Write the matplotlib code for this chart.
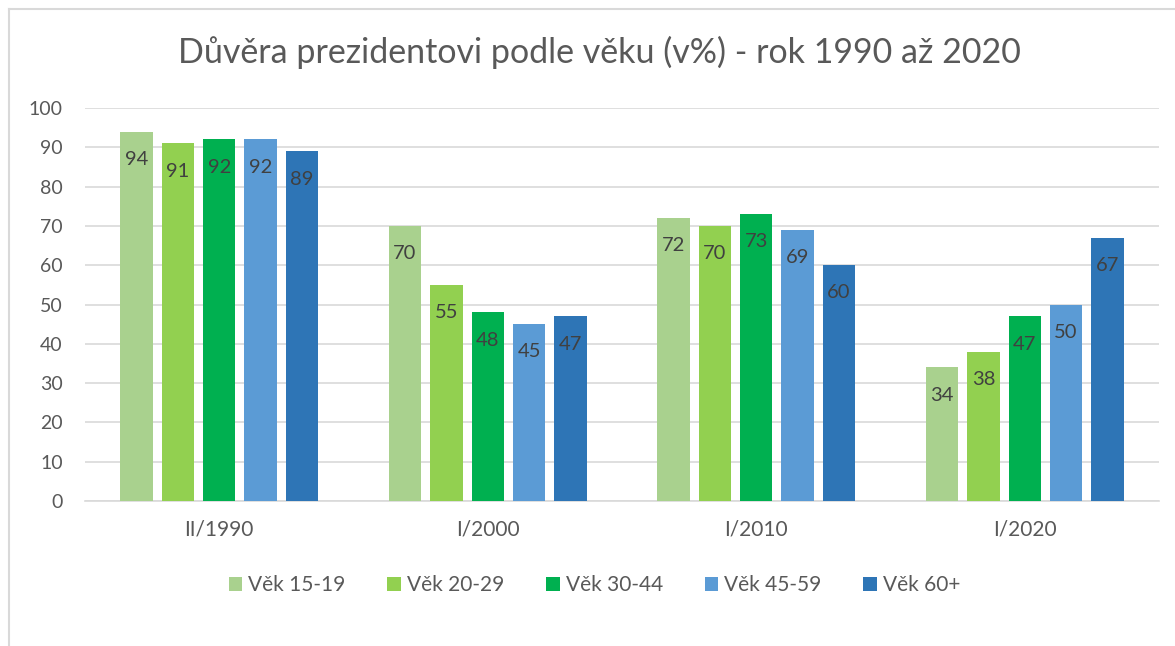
import numpy as np
import matplotlib
matplotlib.use("Agg")
from matplotlib import pyplot as plt
from matplotlib.lines import Line2D

plt.rcParams['font.family'] = ['Lato', 'DejaVu Sans']

categories = ["II/1990", "I/2000", "I/2010", "I/2020"]
series_names = ["Věk 15-19", "Věk 20-29", "Věk 30-44", "Věk 45-59", "Věk 60+"]
age_15_19 = [94, 70, 72, 34]
age_20_29 = [91, 55, 70, 38]
age_30_44 = [92, 48, 73, 47]
age_45_59 = [92, 45, 69, 50]
age_60_plus = [89, 47, 60, 67]
series = [age_15_19, age_20_29, age_30_44, age_45_59, age_60_plus]
colors = ["#A9D18E", "#92D050", "#00B050", "#5B9BD5", "#2E75B6"]

fig = plt.figure(figsize=(11.75, 6.46), dpi=100)
ax = fig.add_axes([85/1175, 1-501/646, 1074/1175, 393/646])

x = np.arange(len(categories))
width = 0.12
pitch = 0.154
for i, (vals, c, name) in enumerate(zip(series, colors, series_names)):
    pos = x + (i - 2) * pitch
    bars = ax.bar(pos, vals, width, color=c, label=name, zorder=3)
    for b, v in zip(bars, vals):
        ax.annotate(str(v), (b.get_x() + b.get_width()/2, v), xytext=(0, -20),
                    textcoords="offset points", ha="center", va="center",
                    fontsize=14.5, color="#404040", zorder=4)

ax.set_xlim(-0.5, 3.5)
ax.set_ylim(0, 100)
ax.set_yticks(range(0, 101, 10))
ax.set_xticks(x)
ax.set_xticklabels(categories)
ax.yaxis.grid(True, color="#D9D9D9", linewidth=1.2, zorder=0)
for s in ["top", "right", "left"]:
    ax.spines[s].set_visible(False)
ax.spines["bottom"].set_color("#D9D9D9")
ax.spines["bottom"].set_linewidth(1.2)
ax.tick_params(axis="both", length=0, labelcolor="#595959")
ax.tick_params(axis="y", pad=16, labelsize=14)
ax.tick_params(axis="x", pad=13, labelsize=15)

fig.text(0.51, 1-52/646, "Důvěra prezidentovi podle věku (v%) - rok 1990 až 2020",
         ha="center", va="center", fontsize=24.5, color="#595959")

fig.legend(loc="center", bbox_to_anchor=(0.506, 1-585/646), ncol=5, frameon=False,
           fontsize=15, labelcolor="#595959", handlelength=0.65, handleheight=0.65,
           handletextpad=0.3, columnspacing=2.0)

# chart frame
fig.add_artist(Line2D([9/1175, 9/1175], [0, 1-9/646], color="#D9D9D9", lw=1.5))
fig.add_artist(Line2D([9/1175, 1], [1-9/646, 1-9/646], color="#D9D9D9", lw=1.5))

fig.savefig("out.png", dpi=100)
